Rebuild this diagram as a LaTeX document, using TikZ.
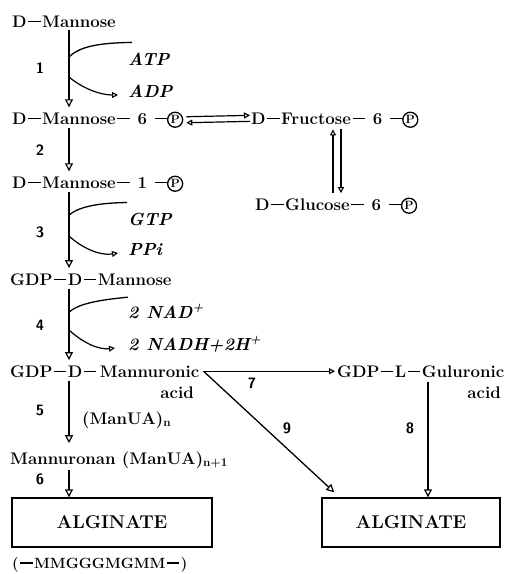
\documentclass[tikz,border=0pt]{standalone}
\usepackage{fontspec}
\usetikzlibrary{arrows.meta}
\newcommand\dsh{\kern1.5pt\raisebox{0.27em}{\rule{12.5pt}{1.6pt}}\kern1.5pt}
\begin{document}
\begin{tikzpicture}[x=1pt,y=-1pt,
  lbl/.style={font=\fontsize{16.8}{20}\selectfont\bfseries, inner sep=0pt, anchor=base west},
  pc/.style={circle, draw, line width=1.3pt, minimum size=15pt, inner sep=0pt,
    font=\fontsize{12}{12}\selectfont\bfseries, anchor=south west},
  cof/.style={font=\fontsize{17.5}{20}\selectfont\bfseries\itshape, inner sep=0pt, anchor=base west},
  num/.style={font=\fontsize{15}{18}\selectfont\sffamily\bfseries, inner sep=0pt},
  arr/.style={line width=1.3pt, -{Triangle[open,length=8pt,width=8pt,line width=1.2pt]}},
  tip/.style={line width=1.2pt, -{Triangle[open,length=6pt,width=6pt,line width=1.1pt]}},
  ln/.style={line width=1.3pt},
  algbox/.style={draw, line width=1.4pt, minimum height=49pt,
    font=\fontsize{18.5}{22}\selectfont\bfseries, inner sep=0pt}]
\useasboundingbox (0,0) rectangle (505,574);
\coordinate (ax) at (69,0);
\coordinate (vx) at (337,0);
\coordinate (c8) at (428,0);
% compounds
\node[lbl] (m0) at (12,27) {D\dsh Mannose};
\node[lbl] (m6) at (12,124) {D\dsh Mannose\dsh\ 6 \dsh};
\node[pc] (m6p) at ([shift={(0.3,1.5)}]m6.base east) {P};
\node[lbl] (f6) at (251,124) {D\dsh Fructose\dsh\ 6 \dsh};
\node[pc] (f6p) at ([shift={(0.3,1.5)}]f6.base east) {P};
\node[lbl] (m1) at (12,188) {D\dsh Mannose\dsh\ 1 \dsh};
\node[pc] (m1p) at ([shift={(0.3,1.5)}]m1.base east) {P};
\node[lbl] (g6) at (255,210) {D\dsh Glucose\dsh\ 6 \dsh};
\node[pc] (g6p) at ([shift={(0.3,1.5)}]g6.base east) {P};
\node[lbl] (gm) at (10,285) {GDP\dsh D\dsh Mannose};
\node[lbl] (gma) at (10,377) {GDP\dsh D\dsh\kern2pt Mannuronic};
\node[lbl,anchor=base east] (gmacid) at (194,398) {acid};
\node[lbl] (gg) at (337,377) {GDP\dsh L\dsh Guluronic};
\node[lbl,anchor=base east] (ggacid) at (501,398) {acid};
\node[lbl] (manua) at (82,424) {(ManUA)\textsubscript{n}};
\node[lbl] (mn) at (10,464) {Mannuronan (ManUA)\textsubscript{n+1}};
\node[algbox,minimum width=200pt] (a1) at (112,522.5) {ALGINATE};
\node[algbox,minimum width=178pt] (a2) at (411,522.5) {ALGINATE};
\node[lbl,font=\fontsize{14.8}{18}\selectfont\bfseries] (seq) at (12,568) {(\dsh MMGGGMGMM\dsh)};
% cofactors
\node[cof] (atp) at (128,65) {ATP};
\node[cof] (adp) at (128,97) {ADP};
\node[cof] (gtp) at (128,225) {GTP};
\node[cof] (ppi) at (128,255) {PPi};
\node[cof] (nad) at (128,318) {2\hspace{0.45em}NAD\textsuperscript{+}};
\node[cof] (nadh) at (128,350) {2\hspace{0.45em}NADH+2H\textsuperscript{+}};
% step numbers
\node[num] (n1) at (40,68) {1};
\node[num] (n2) at (40,150) {2};
\node[num] (n3) at (40,232) {3};
\node[num] (n4) at (40,325) {4};
\node[num] (n5) at (40,410) {5};
\node[num] (n6) at (40,479) {6};
\node[num] (n7) at (252,383) {7};
\node[num] (n8) at (410,428) {8};
\node[num] (n9) at (287,428) {9};
% main axis arrows
\draw[arr,shorten <=3pt,shorten >=5pt] (m0.south -| ax) -- (m6.north -| ax);
\draw[arr,shorten <=4pt,shorten >=5pt] (m6.south -| ax) -- (m1.north -| ax);
\draw[arr,shorten <=4pt,shorten >=5pt] (m1.south -| ax) -- (gm.north -| ax);
\draw[arr,shorten <=4pt,shorten >=5pt] (gm.south -| ax) -- (gma.north -| ax);
\draw[arr,shorten <=4pt,shorten >=8pt] (gma.south -| ax) -- (mn.north -| ax);
\draw[arr,shorten <=2pt] (mn.south -| ax) -- (a1.north -| ax);
% cofactor curves
\coordinate (atpin) at (69,57);
\coordinate (adpout) at (69,77);
\draw[ln] (atpin) .. controls (80,46) and (100,43) .. ([shift={(4,-10)}]atp.north west);
\draw[tip] (adpout) .. controls (82,88) and (100,95) .. ([shift={(-10,-2)}]adp.base west);
\coordinate (gtpin) at (69,215);
\coordinate (ppiout) at (69,236);
\draw[ln] (gtpin) .. controls (80,206) and (100,203) .. ([shift={(-1,-10)}]gtp.north west);
\draw[tip] (ppiout) .. controls (82,248) and (100,256) .. ([shift={(-10,-2)}]ppi.base west);
\coordinate (nadin) at (69,312);
\coordinate (nadhout) at (69,330);
\draw[ln] (nadin) .. controls (80,303) and (100,300) .. ([shift={(0,-7)}]nad.north west);
\draw[tip] (nadhout) .. controls (82,342) and (98,350) .. ([shift={(-13,-2)}]nadh.base west);
% equilibria
\draw[tip] ([shift={(3,-3)}]m6p.east) -- ([shift={(-1,-3)}]f6.west);
\draw[tip] ([shift={(-1,3)}]f6.west) -- ([shift={(3,3)}]m6p.east);
\draw[tip,shorten <=5pt,shorten >=5pt] ([xshift=-4pt]g6.north -| vx) -- ([xshift=-4pt]f6.south -| vx);
\draw[tip,shorten <=5pt,shorten >=5pt] ([xshift=4pt]f6.south -| vx) -- ([xshift=4pt]g6.north -| vx);
% 7, 8, 9
\coordinate (br) at ([xshift=4pt]gma.east);
\draw[tip] (br) -- ([xshift=-2pt]gg.west |- br);
\draw[ln,-{Triangle[open,length=8pt,width=8pt,line width=1.2pt]}] (br) -- ([shift={(13,-5)}]a2.north west);
\draw[arr,shorten <=5pt] (gg.south -| c8) -- (a2.north -| c8);
\end{tikzpicture}
\end{document}
